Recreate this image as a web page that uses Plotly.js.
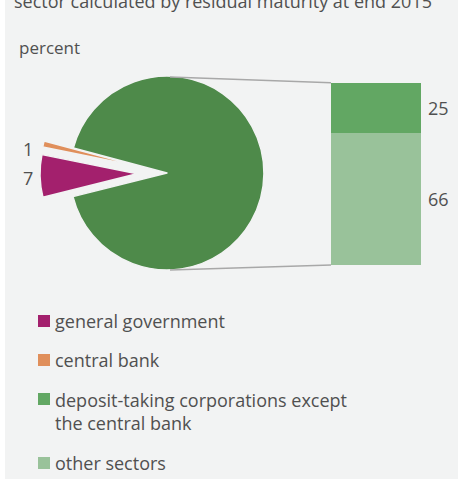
<!DOCTYPE html>
<html>
<head>
<meta charset="utf-8">
<script src="https://cdn.plot.ly/plotly-3.0.1.min.js"></script>
<style>html,body{margin:0;padding:0;background:#fff;}#chart{width:458px;height:479px;}</style>
</head>
<body>
<div id="chart"></div>
<script>
// ---- data ----
const barLabels = ['other sectors', 'deposit-taking corporations except<br>the central bank'];
const barValues = [66, 25];
const pieLabels = ['deposit-taking corporations and other sectors', 'general government', 'central bank'];
const pieSmallValues = [7, 1];
const legendLabels = ['general government', 'central bank', 'deposit-taking corporations except<br>the central bank', 'other sectors'];
const titleText = 'sector calculated by residual maturity at end 2015';
const unitText = 'percent';

// ---- colours ----
const cMagenta = '#a3206d', cOrange = '#e08f5b', cMid = '#62a763', cLight = '#99c29a', cDark = '#4e8a4a';
const textColor = '#505050';
const bg = '#f2f3f3';
const fontFam = '"Open Sans", "Segoe UI", sans-serif';

const W = 458, H = 479;
const px = v => v / W, py = v => 1 - v / H;

const bigSlice = barValues.reduce((a, b) => a + b, 0);
const pieValues = [bigSlice].concat(pieSmallValues);

// pie centre ~ (167, 173) px from top-left, radius ~97 px
const pieTrace = {
  type: 'pie',
  labels: pieLabels,
  values: pieValues,
  sort: false,
  direction: 'clockwise',
  rotation: -75,
  pull: [0, 0.31, 0.31],
  marker: {colors: [cDark, cMagenta, cOrange], line: {color: bg, width: 1.5}},
  textinfo: 'none',
  hoverinfo: 'label+value',
  showlegend: false,
  domain: {x: [px(40), px(294)], y: [py(300), py(46)]}
};

const barTraces = barLabels.map((lab, i) => ({
  type: 'bar',
  x: [0],
  y: [barValues[i]],
  name: lab,
  width: 1,
  marker: {color: i === 0 ? cLight : cMid, line: {width: 0}},
  showlegend: false,
  hoverinfo: 'name+y',
  xaxis: 'x', yaxis: 'y'
}));

const annotations = [];
// title (cut at top)
annotations.push({xref: 'paper', yref: 'paper', x: px(12), y: py(1), xanchor: 'left', yanchor: 'middle',
  text: titleText, showarrow: false, font: {family: fontFam, size: 18, color: textColor}});
annotations.push({xref: 'paper', yref: 'paper', x: px(17), y: py(47), xanchor: 'left', yanchor: 'middle',
  text: unitText, showarrow: false, font: {family: fontFam, size: 17, color: textColor}});
// bar labels
let cum = 0;
barValues.forEach((v, i) => {
  annotations.push({xref: 'x', yref: 'y', x: 0.5, y: cum + v / 2, xanchor: 'left', yanchor: 'middle', xshift: 5,
    text: String(v), showarrow: false, font: {family: fontFam, size: 18, color: textColor}});
  cum += v;
});
// pie small-slice labels
const pieLabelY = [178, 149];
pieSmallValues.forEach((v, i) => {
  annotations.push({xref: 'paper', yref: 'paper', x: px(28), y: py(pieLabelY[i]), xanchor: 'center', yanchor: 'middle',
    text: String(v), showarrow: false, font: {family: fontFam, size: 18, color: textColor}});
});
// legend
const legendColors = [cMagenta, cOrange, cMid, cLight];
const legendSqY = [321, 360, 399, 463];
const legendTxtY = [321, 360, 411.5, 463];
const shapes = [
  {type: 'rect', xref: 'paper', yref: 'paper', x0: px(5), x1: 1, y0: 0, y1: 1, fillcolor: bg, line: {width: 0}, layer: 'below'},
  {type: 'line', xref: 'paper', yref: 'paper', x0: px(170), y0: py(77), x1: px(331), y1: py(82.7), line: {color: '#a8a8a8', width: 1.5}},
  {type: 'line', xref: 'paper', yref: 'paper', x0: px(170), y0: py(270), x1: px(331), y1: py(265), line: {color: '#a8a8a8', width: 1.5}}
];
legendLabels.forEach((lab, i) => {
  shapes.push({type: 'rect', xref: 'paper', yref: 'paper', x0: px(38), x1: px(50), y0: py(legendSqY[i] + 6), y1: py(legendSqY[i] - 6),
    fillcolor: legendColors[i], line: {width: 0}});
  annotations.push({xref: 'paper', yref: 'paper', x: px(53), y: py(legendTxtY[i]), xanchor: 'left', yanchor: 'middle', align: 'left',
    text: lab, showarrow: false, font: {family: fontFam, size: 18, color: textColor}});
});

const layout = {
  width: W, height: H,
  margin: {l: 0, r: 0, t: 0, b: 0},
  paper_bgcolor: '#ffffff',
  plot_bgcolor: 'rgba(0,0,0,0)',
  barmode: 'stack',
  showlegend: false,
  xaxis: {domain: [px(331), px(421)], range: [-0.5, 0.5], visible: false, fixedrange: true},
  yaxis: {domain: [py(265), py(82.7)], range: [0, bigSlice], visible: false, fixedrange: true},
  shapes: shapes,
  annotations: annotations,
  font: {family: fontFam, color: textColor}
};

Plotly.newPlot('chart', [pieTrace].concat(barTraces), layout, {displayModeBar: false, staticPlot: true});
</script>
</body>
</html>
